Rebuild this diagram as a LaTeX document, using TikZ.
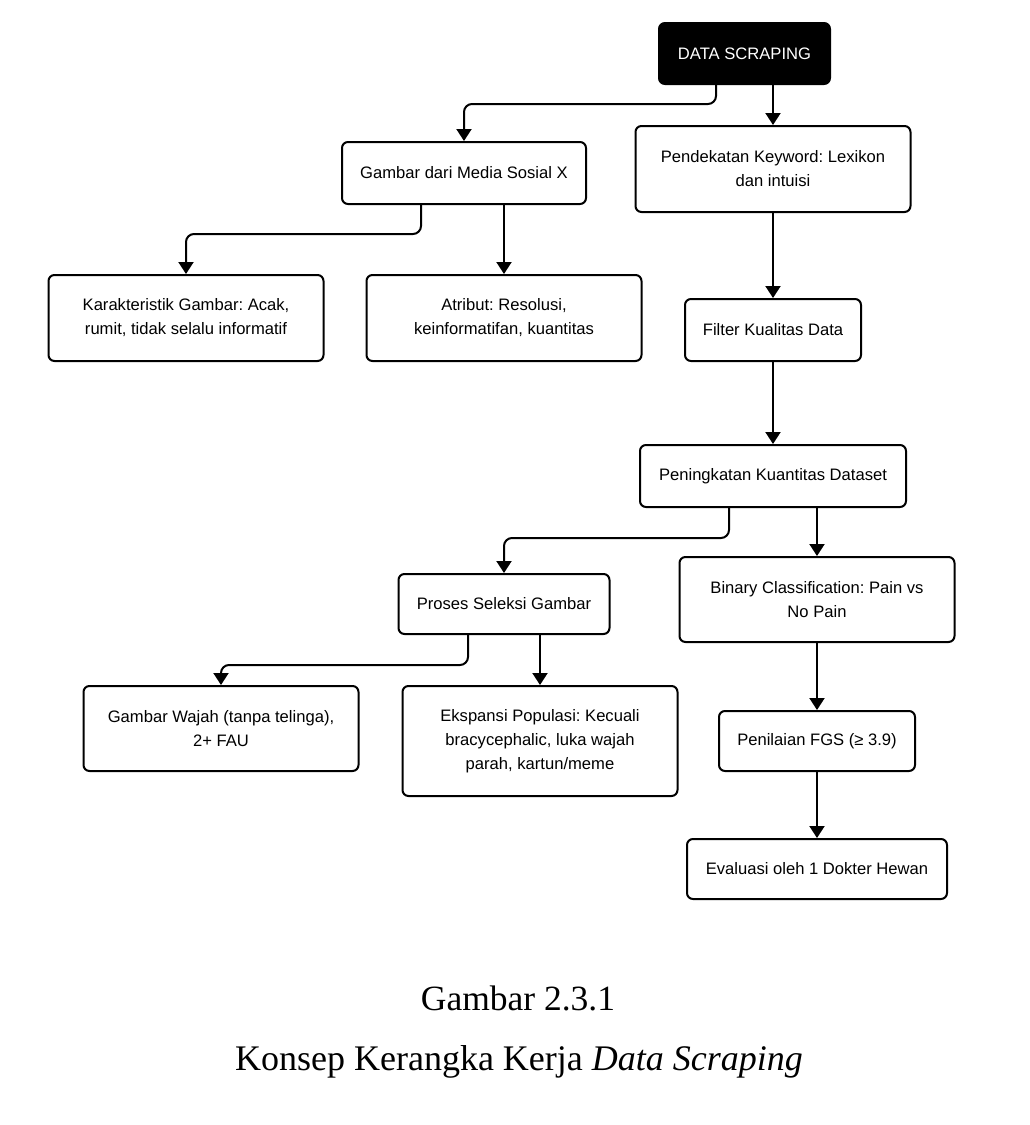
\documentclass[tikz,border=0pt]{standalone}
\usepackage{fontspec}
\setmainfont{Liberation Serif}
\newfontfamily\boxfont{Liberation Sans}
\usetikzlibrary{arrows.meta}
\frenchspacing
\tikzset{
  box/.style={draw=black, line width=2pt, rounded corners=6pt, fill=white,
    align=center, font=\boxfont\fontsize{16.6}{24}\selectfont, inner sep=0pt},
  darkbox/.style={box, fill=black, text=white},
  arr/.style={line width=2pt, rounded corners=8pt, -{Triangle[width=15pt,length=12pt]}},
  captext/.style={font=\fontsize{35.5}{40}\selectfont, inner sep=0pt}
}
\begin{document}
\begin{tikzpicture}[x=1pt,y=-1pt]
\useasboundingbox (0,0) rectangle (1029,1125);
\fill[white] (0,0) rectangle (1029,1125);

\node[darkbox, minimum width=171pt, minimum height=61pt] (ds) at (744.5,53.5) {DATA SCRAPING};
\node[box, minimum width=244pt, minimum height=62pt] (gm) at (464,173) {Gambar dari Media Sosial X};
\node[box, minimum width=275pt, minimum height=86pt] (pk) at (773,169) {Pendekatan Keyword: Lexikon\\dan intuisi};
\node[box, minimum width=275pt, minimum height=86pt] (kg) at (186,318) {Karakteristik Gambar: Acak,\\rumit, tidak selalu informatif};
\node[box, minimum width=275pt, minimum height=86pt] (at) at (504,318) {Atribut: Resolusi,\\keinformatifan, kuantitas};
\node[box, minimum width=176pt, minimum height=62pt] (fl) at (773,330) {Filter Kualitas Data};
\node[box, minimum width=266pt, minimum height=62pt] (pq) at (773,476) {Peningkatan Kuantitas Dataset};
\node[box, minimum width=211pt, minimum height=60pt] (ps) at (504,604) {Proses Seleksi Gambar};
\node[box, minimum width=275pt, minimum height=85pt] (bc) at (817,599.5) {Binary Classification: Pain vs\\No Pain};
\node[box, minimum width=275pt, minimum height=85pt] (gw) at (221,728.5) {Gambar Wajah (tanpa telinga),\\2+ FAU};
\node[box, minimum width=275pt, minimum height=110pt] (ek) at (540,741) {Ekspansi Populasi: Kecuali\\bracycephalic, luka wajah\\parah, kartun/meme};
\node[box, minimum width=196pt, minimum height=60pt] (pn) at (817,741) {Penilaian FGS (≥ 3.9)};
\node[box, minimum width=260pt, minimum height=60pt] (ev) at (817,869) {Evaluasi oleh 1 Dokter Hewan};

\draw[arr] ([xshift=-28.5pt]ds.south) -- ++(0,19) -| (gm.north);
\draw[arr] (ds.south -| pk.north) -- (pk.north);
\draw[arr] ([xshift=-43pt]gm.south) -- ++(0,29) -| (kg.north);
\draw[arr] (gm.south -| at.north) -- (at.north);
\draw[arr] (pk.south -| fl.north) -- (fl.north);
\draw[arr] (fl.south) -- (pq.north);
\draw[arr] ([xshift=-44pt]pq.south) -- ++(0,30) -| (ps.north);
\draw[arr] (pq.south -| bc.north) -- (bc.north);
\draw[arr] ([xshift=-36pt]ps.south) -- ++(0,30) -| (gw.north);
\draw[arr] (ps.south -| ek.north) -- (ek.north);
\draw[arr] (bc.south -| pn.north) -- (pn.north);
\draw[arr] (pn.south) -- (ev.north);

\node[captext] (c1) at (518,998) {Gambar 2.3.1};
\node[captext, font=\fontsize{36}{40}\selectfont] (c2) at (519,1062) {Konsep Kerangka Kerja \textit{Data Scraping}};
\end{tikzpicture}
\end{document}
